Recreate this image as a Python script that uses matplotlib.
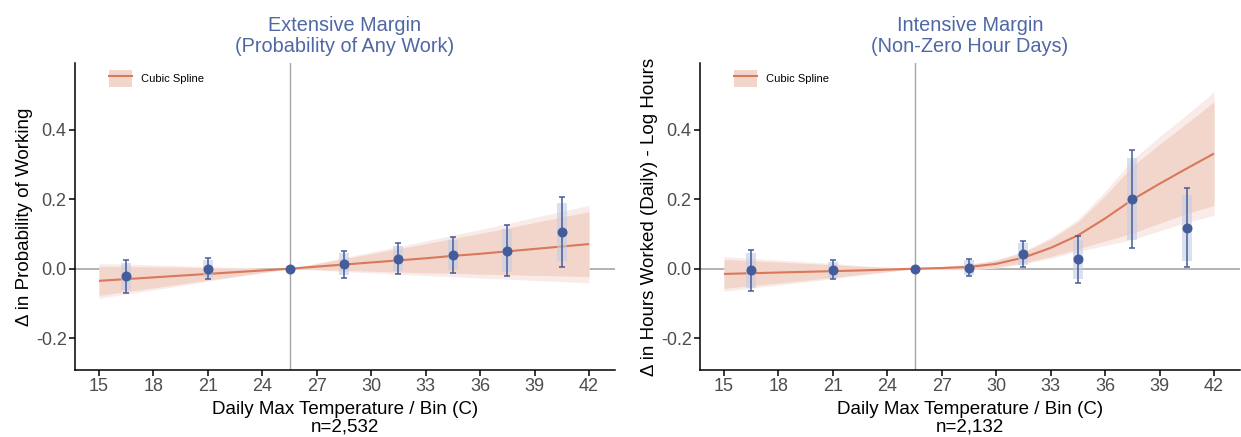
import numpy as np
import matplotlib
matplotlib.use("Agg")
import matplotlib.pyplot as plt
from matplotlib.patches import Patch
from matplotlib.lines import Line2D

plt.rcParams['font.family'] = ['Liberation Sans', 'DejaVu Sans']

# Temperature bins (bin midpoints, reference bin at 25.5)
bin_mid = [16.5, 21.0, 25.5, 28.5, 31.5, 34.5, 37.5, 40.5]

# Extensive margin: bin coefficients and 95% CI half-widths
ext_coef = [-0.022, 0.000, 0.000, 0.0125, 0.029, 0.040, 0.052, 0.106]
ext_hw95 = [0.047, 0.030, 0.000, 0.038, 0.044, 0.051, 0.074, 0.101]

# Intensive margin: bin coefficients and 95% CI half-widths
int_coef = [-0.005, -0.003, 0.000, 0.003, 0.042, 0.027, 0.202, 0.118]
int_hw95 = [0.059, 0.027, 0.000, 0.025, 0.037, 0.068, 0.141, 0.114]

# Cubic spline fits evaluated on a temperature grid
spline_x = [15, 16.5, 18, 19.5, 21, 22.5, 24, 25.5, 27, 28.5, 30, 31.5,
            33, 34.5, 36, 37.5, 39, 40.5, 42]
ext_fit = [-0.035, -0.030, -0.025, -0.020, -0.015, -0.010, -0.005, 0.000,
           0.006, 0.012, 0.018, 0.024, 0.030, 0.037, 0.043, 0.050, 0.057,
           0.064, 0.071]
ext_fit_hw95 = [0.050, 0.043, 0.036, 0.029, 0.021, 0.014, 0.007, 0.000,
                0.010, 0.020, 0.030, 0.040, 0.050, 0.060, 0.070, 0.080,
                0.091, 0.101, 0.112]
int_fit = [-0.015, -0.013, -0.011, -0.009, -0.007, -0.005, -0.0025, 0.000,
           0.002, 0.005, 0.014, 0.032, 0.060, 0.096, 0.145, 0.199, 0.245,
           0.289, 0.332]
int_fit_hw95 = [0.050, 0.043, 0.036, 0.029, 0.022, 0.014, 0.007, 0.000,
                0.005, 0.008, 0.012, 0.018, 0.030, 0.046, 0.078, 0.115,
                0.136, 0.155, 0.178]

x_ticks = [15, 18, 21, 24, 27, 30, 33, 36, 39, 42]
y_ticks = [-0.2, 0.0, 0.2, 0.4]
y_ticklabels = ["-0.2", "0.0", "0.2", "0.4"]

titles = ["Extensive Margin\n(Probability of Any Work)",
          "Intensive Margin\n(Non-Zero Hour Days)"]
y_labels = ["\u0394 in Probability of Working",
            "\u0394 in Hours Worked (Daily) - Log Hours"]
n_labels = ["n=2,532", "n=2,132"]

Z90 = 1.645 / 1.96

LINE_C = "#D9785A"
BAND_DARK = "#F2D6CC"
BAND_LIGHT = "#F9ECE8"
PT_C = "#455C9B"
BOX_C = "#C3CCE4"
TITLE_C = "#4F67A3"
REF_C = "#A6A6A6"

fig = plt.figure(figsize=(12.41, 4.37), dpi=100)
ax_l = fig.add_axes([75 / 1241, 1 - 370 / 437, 540 / 1241, 307 / 437])
ax_r = fig.add_axes([700 / 1241, 1 - 370 / 437, 540 / 1241, 307 / 437])

panels = [
    (ax_l, ext_coef, ext_hw95, ext_fit, ext_fit_hw95),
    (ax_r, int_coef, int_hw95, int_fit, int_fit_hw95),
]

for i, (ax, coef, hw, fit, fit_hw) in enumerate(panels):
    sx = np.array(spline_x)
    f = np.array(fit)
    h = np.array(fit_hw)
    ax.axhline(0, color=REF_C, lw=1.2, zorder=1)
    ax.axvline(25.5, color=REF_C, lw=1.0, zorder=1)
    ax.fill_between(sx, f - h, f + h, color=BAND_LIGHT, lw=0, zorder=2)
    ax.fill_between(sx, f - Z90 * h, f + Z90 * h, color=BAND_DARK, lw=0, zorder=2)
    ax.plot(sx, f, color=LINE_C, lw=1.5, zorder=3, solid_capstyle='butt')

    c = np.array(coef)
    e = np.array(hw)
    bx = np.array(bin_mid)
    ax.bar(bx, 2 * Z90 * e, bottom=c - Z90 * e, width=0.55, color=BOX_C,
           alpha=0.6, lw=0, zorder=4)
    ax.errorbar(bx, c, yerr=e, fmt='none', ecolor=PT_C, elinewidth=1.1,
                capsize=2.0, capthick=1.1, zorder=5)
    ax.plot(bx, c, 'o', color=PT_C, ms=7.2, mew=0, zorder=6)

    ax.set_xlim(13.68, 43.43)
    ax.set_ylim(-0.292, 0.593)
    ax.set_xticks(x_ticks)
    ax.set_yticks(y_ticks)
    ax.set_yticklabels(y_ticklabels)
    for s in ['top', 'right']:
        ax.spines[s].set_visible(False)
    for s in ['left', 'bottom']:
        ax.spines[s].set_linewidth(1.1)
        ax.spines[s].set_color('black')
    ax.tick_params(axis='both', direction='out', length=4, width=1.1,
                   color='black', labelsize=13, labelcolor='#4D4D4D', pad=2)
    ax.set_title(titles[i], color=TITLE_C, fontsize=14.3, pad=8,
                 linespacing=1.12)
    ax.set_ylabel(y_labels[i], fontsize=13.5, labelpad=2)
    ax.set_xlabel("Daily Max Temperature / Bin (C)\n" + n_labels[i],
                  fontsize=13.5, labelpad=4, linespacing=1.05)

    handle = (Patch(facecolor=BAND_DARK, edgecolor='none'),
              Line2D([], [], color=LINE_C, lw=1.5))
    ax.legend([handle], ["Cubic Spline"], loc='upper left',
              bbox_to_anchor=(0.05, 1.0), frameon=False, fontsize=8,
              handlelength=2.1, handleheight=2.0, handletextpad=0.8,
              borderaxespad=0.2)

fig.savefig("out.png", dpi=100)
